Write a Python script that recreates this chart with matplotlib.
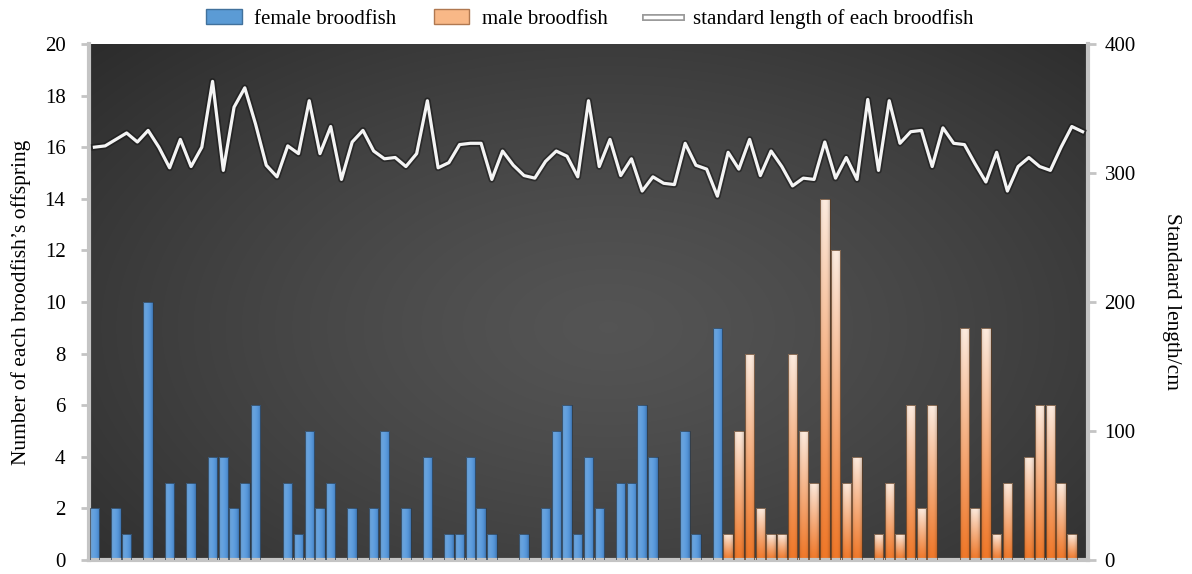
import numpy as np
import matplotlib
matplotlib.use('Agg')
import matplotlib.pyplot as plt
import matplotlib.patheffects as pe
from matplotlib.patches import Patch
from matplotlib.lines import Line2D

plt.rcParams['font.family'] = ['Liberation Serif', 'DejaVu Serif']

# offspring per broodfish (0..58 female, 59..92 male)
female_offspring = [2, 0, 2, 1, 0, 10, 0, 3, 0, 3, 0, 4, 4, 2, 3, 6, 0, 0, 3, 1,
                    5, 2, 3, 0, 2, 0, 2, 5, 0, 2, 0, 4, 0, 1, 1, 4, 2, 1, 0, 0,
                    1, 0, 2, 5, 6, 1, 4, 2, 0, 3, 3, 6, 4, 0, 0, 5, 1, 0, 9]
male_offspring = [1, 5, 8, 2, 1, 1, 8, 5, 3, 14, 12, 3, 4, 0, 1, 3, 1, 6, 2, 6,
                  0, 0, 9, 2, 9, 1, 3, 0, 4, 6, 6, 3, 1, 0]

# standard length of each broodfish (cm)
std_length = [320, 321, 326, 331, 324, 333, 320, 304, 326, 305, 320, 371, 302, 351,
              366, 338, 306, 297, 321, 315, 356, 315, 336, 295, 324, 333, 317, 311,
              312, 305, 315, 356, 304, 308, 322, 323, 323, 295, 317, 306, 298, 296,
              309, 317, 313, 297, 356, 305, 326, 298, 311, 286, 297, 292, 291, 323,
              306, 303, 282, 316, 303, 326, 298, 317, 305, 290, 296, 295, 324, 296,
              312, 295, 357, 302, 356, 323, 332, 333, 305, 335, 323, 322, 307, 293,
              316, 286, 305, 312, 305, 302, 320, 336, 332]

n_f = len(female_offspring)
n_m = len(male_offspring)
x_f = np.arange(n_f)
x_m = np.arange(n_f, n_f + n_m)
x_all = np.arange(n_f + n_m)

fig = plt.figure(figsize=(11.92, 5.74), dpi=100)
ax = fig.add_axes([0.0747, 0.0244, 0.838, 0.899])

# dark radial background
yy, xx = np.mgrid[0:1:300j, 0:1:600j]
r = np.sqrt(((xx - 0.52) / 0.75) ** 2 + ((yy - 0.55) / 0.85) ** 2)
bg = np.clip(0.33 - 0.17 * r ** 1.3, 0.14, 0.33)
ax.imshow(np.dstack([bg, bg, bg]), extent=[0, 1, 0, 1], transform=ax.transAxes,
          aspect='auto', zorder=0, interpolation='bicubic')


def fill_gradient(bars, kind):
    for b in bars:
        h = b.get_height()
        if h <= 0:
            continue
        x0, w = b.get_x(), b.get_width()
        t = np.linspace(0, 1, 60)[:, None]
        u = np.linspace(0, 1, 16)[None, :]
        edge = 1 - 0.18 * np.abs(2 * u - 1) ** 3
        if kind == 'm':
            bot = np.array([0.94, 0.47, 0.16])
            top = np.array([0.99, 0.92, 0.87])
            s = t ** 1.1
            img = bot * (1 - s[..., None]) + top * s[..., None]
            img = img * np.ones((1, 16, 1))
        else:
            left = np.array([0.45, 0.68, 0.90])
            right = np.array([0.30, 0.56, 0.84])
            img = left * (1 - u[..., None]) + right * u[..., None]
            img = img * np.ones((60, 1, 1))
        img = np.clip(img * edge[..., None], 0, 1)
        im = ax.imshow(img, extent=[x0, x0 + w, 0, h], origin='lower',
                       aspect='auto', zorder=2, interpolation='bilinear')
        im.set_clip_path(b)
        b.set_facecolor('none')


bars_f = ax.bar(x_f, female_offspring, width=0.88, edgecolor='#2a3a4a',
                linewidth=0.5, zorder=3)
bars_m = ax.bar(x_m, male_offspring, width=0.88, edgecolor='#5a3a20',
                linewidth=0.5, zorder=3)
fill_gradient(bars_f, 'f')
fill_gradient(bars_m, 'm')

ax.set_xlim(-0.5, len(x_all) - 0.5)
ax.set_ylim(0, 20)
ax.set_yticks(np.arange(0, 21, 2))
ax.set_xticks([])
ax.set_ylabel('Number of each broodfish’s offspring', fontsize=15.5, labelpad=10)

ax2 = ax.twinx()
ax2.plot(x_all, std_length, color='#f4f4f4', lw=2.3, zorder=5,
         path_effects=[pe.Stroke(linewidth=4.8, foreground='#151515', alpha=0.55),
                       pe.Normal()])
ax2.set_ylim(0, 400)
ax2.set_yticks(np.arange(0, 401, 100))
ax2.set_ylabel('Standaard length/cm', fontsize=15.5, rotation=-90, va='bottom',
               labelpad=19)

spine_c = '#c4c4c4'
for a in (ax, ax2):
    for s in a.spines.values():
        s.set_visible(False)
ax.tick_params(axis='y', direction='out', length=6, width=2, color=spine_c,
               labelsize=15, pad=11)
ax2.tick_params(axis='y', direction='out', length=6, width=2, color=spine_c,
                labelsize=15, pad=6)
ax.spines['left'].set_visible(True)
ax.spines['bottom'].set_visible(True)
ax.spines['left'].set_color(spine_c)
ax.spines['bottom'].set_color(spine_c)
ax.spines['left'].set_linewidth(3)
ax.spines['bottom'].set_linewidth(3)
ax2.spines['right'].set_visible(True)
ax2.spines['right'].set_color(spine_c)
ax2.spines['right'].set_linewidth(3)

handles = [
    Patch(facecolor='#5b9bd5', edgecolor='#41719c', linewidth=1),
    Patch(facecolor='#f8b887', edgecolor='#b07850', linewidth=1),
    Line2D([0], [0], color='white', lw=2.5,
           path_effects=[pe.Stroke(linewidth=5, foreground='#999999'), pe.Normal()]),
]
labels = ['female broodfish', 'male broodfish', 'standard length of each broodfish']
fig.legend(handles, labels, loc='upper center', bbox_to_anchor=(0.495, 1.017),
           ncol=3, frameon=False, fontsize=15, handlelength=1.7,
           handletextpad=0.6, columnspacing=1.8)

fig.savefig('out.png', dpi=100)
